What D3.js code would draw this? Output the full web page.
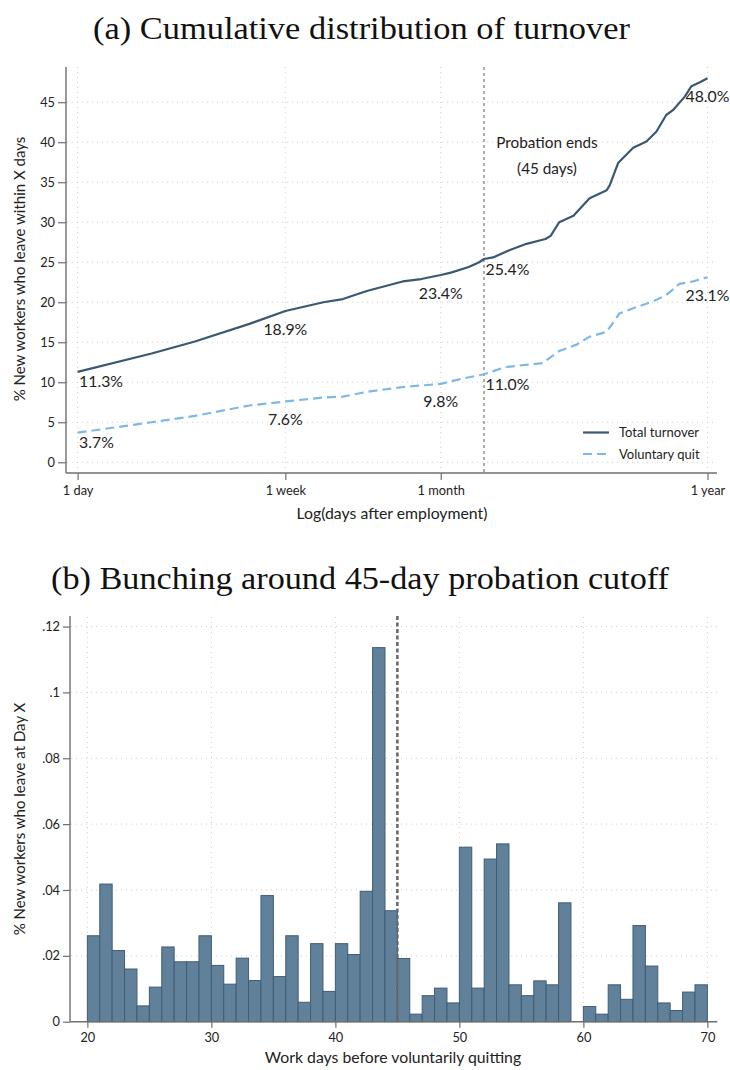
<!DOCTYPE html>
<html>
<head>
<meta charset="utf-8">
<script src="https://cdn.jsdelivr.net/npm/d3@7/dist/d3.min.js"></script>
<style>
  html, body { margin: 0; padding: 0; background: #fff; }
  svg { display: block; }
  .tick text { font-family: Lato, "Open Sans", sans-serif; fill: #222; }
</style>
</head>
<body>
<svg id="chart" width="730" height="1070"></svg>
<script>
// ---- Panel (a): cumulative turnover by days since hiring ----
const totalDays = [1, 2, 3, 5, 7, 10, 12, 15, 21, 25, 30, 33, 39, 43, 45, 49, 57, 67, 80, 84, 91, 104, 121, 142, 146, 158, 182, 206, 226, 248, 264, 295, 314, 340, 365];
const totalPct  = [11.3, 13.6, 15.1, 17.3, 18.9, 20.0, 20.4, 21.4, 22.6, 22.9, 23.4, 23.7, 24.4, 25.0, 25.4, 25.6, 26.5, 27.3, 27.9, 28.3, 30.0, 30.8, 33.0, 34.0, 34.6, 37.4, 39.3, 40.1, 41.3, 43.4, 44.0, 45.7, 47.0, 47.5, 48.0];

const quitDays = [1, 2, 3, 5, 7, 10, 12, 15, 21, 30, 36, 45, 55, 78, 91, 107, 121, 142, 160, 188, 219, 248, 281, 319, 350, 365];
const quitPct  = [3.7, 5.0, 5.8, 7.1, 7.6, 8.1, 8.2, 8.8, 9.4, 9.8, 10.4, 11.0, 11.9, 12.4, 13.9, 14.7, 15.7, 16.3, 18.6, 19.4, 20.1, 20.9, 22.3, 22.6, 23.0, 23.1];

const labelDays = [1, 7, 30, 45, 365];
const xTickDays = [1, 7, 30, 365];
const xTickNames = ["1 day", "1 week", "1 month", "1 year"];
const yTicksA = [0, 5, 10, 15, 20, 25, 30, 35, 40, 45];
const probationDay = 45;
const seriesNames = ["Total turnover", "Voluntary quit"];

// ---- Panel (b): share of quits by work day ----
const binStart = d3.range(20, 70);
const binShare = [
  0.0261, 0.0418, 0.0216, 0.0160, 0.0048, 0.0105, 0.0227, 0.0182, 0.0182, 0.0261,
  0.0171, 0.0114, 0.0193, 0.0125, 0.0383, 0.0137, 0.0261, 0.0059, 0.0237, 0.0092,
  0.0237, 0.0204, 0.0396, 0.1136, 0.0337, 0.0192, 0.0023, 0.0079, 0.0102, 0.0057,
  0.0530, 0.0102, 0.0494, 0.0540, 0.0112, 0.0079, 0.0124, 0.0112, 0.0361, 0.0,
  0.0046, 0.0023, 0.0112, 0.0068, 0.0292, 0.0169, 0.0057, 0.0034, 0.0090, 0.0112
];
const xTicksB = [20, 30, 40, 50, 60, 70];
const yTicksB = [0, 0.02, 0.04, 0.06, 0.08, 0.10, 0.12];

const svg = d3.select("#chart");
const serif = "'Liberation Serif', 'DejaVu Serif', serif";
const sans = "Lato, 'Open Sans', sans-serif";
const axisGrey = "#6f6f6f";
const gridGrey = "#cfcfcf";
const darkLine = "#3b5872";
const lightLine = "#7db9e6";

function styleAxis(g) {
  g.select(".domain").attr("stroke", axisGrey).attr("stroke-width", 1.4);
  g.selectAll(".tick line").attr("stroke", axisGrey).attr("stroke-width", 1.2);
}

function panelTitle(text, cx, y, width) {
  svg.append("text")
    .attr("x", cx).attr("y", y)
    .attr("text-anchor", "middle")
    .attr("font-family", serif).attr("font-size", 32).attr("fill", "#111")
    .attr("textLength", width).attr("lengthAdjust", "spacingAndGlyphs")
    .text(text);
}

// ================= Panel (a) =================
panelTitle("(a) Cumulative distribution of turnover", 361.5, 39, 537);

const xA = d3.scaleLog().domain([0.897, 399]).range([66, 717]);
const yA = d3.scaleLinear().domain([-1.34, 49.4]).range([473, 67]);

const gA = svg.append("g");

// grid
gA.append("g").selectAll("line").data(yTicksA).join("line")
  .attr("x1", 67).attr("x2", 717)
  .attr("y1", d => yA(d)).attr("y2", d => yA(d))
  .attr("stroke", gridGrey).attr("stroke-width", 1).attr("stroke-dasharray", "1,4");
gA.append("g").selectAll("line").data(xTickDays).join("line")
  .attr("x1", d => xA(d)).attr("x2", d => xA(d))
  .attr("y1", 67).attr("y2", 472)
  .attr("stroke", gridGrey).attr("stroke-width", 1).attr("stroke-dasharray", "1,4");

// probation cutoff
gA.append("line")
  .attr("x1", xA(probationDay)).attr("x2", xA(probationDay))
  .attr("y1", 67).attr("y2", 473)
  .attr("stroke", "#9a9a9a").attr("stroke-width", 1.6).attr("stroke-dasharray", "3,3");

// axes
const axA_y = gA.append("g").attr("transform", "translate(66,0)")
  .call(d3.axisLeft(yA).tickValues(yTicksA).tickSize(8).tickPadding(3));
axA_y.select(".domain").attr("d", `M0,67V473`);
axA_y.selectAll(".tick text").attr("font-size", 12.8);
styleAxis(axA_y);

const axA_x = gA.append("g").attr("transform", "translate(0,473)")
  .call(d3.axisBottom(xA).tickValues(xTickDays).tickFormat((d, i) => xTickNames[i]).tickSize(7).tickPadding(6));
axA_x.select(".domain").attr("d", `M66,0H717`);
axA_x.selectAll(".tick text").attr("font-size", 12.8);
styleAxis(axA_x);

// axis titles
gA.append("text")
  .attr("x", 392).attr("y", 518.5)
  .attr("text-anchor", "middle")
  .attr("font-family", sans).attr("font-size", 15.8).attr("fill", "#222")
  .text("Log(days after employment)");
gA.append("text")
  .attr("transform", "translate(25,269) rotate(-90)")
  .attr("text-anchor", "middle")
  .attr("font-family", sans).attr("font-size", 15).attr("fill", "#222")
  .text("% New workers who leave within X days");

// lines
const totalData = totalDays.map((d, i) => ({ day: d, v: totalPct[i] }));
const quitData = quitDays.map((d, i) => ({ day: d, v: quitPct[i] }));
const lineA = d3.line().x(d => xA(d.day)).y(d => yA(d.v));

gA.append("path").datum(quitData)
  .attr("d", lineA).attr("fill", "none")
  .attr("stroke", lightLine).attr("stroke-width", 2.2)
  .attr("stroke-dasharray", "9,5");
gA.append("path").datum(totalData)
  .attr("d", lineA).attr("fill", "none")
  .attr("stroke", darkLine).attr("stroke-width", 2.2)
  .attr("stroke-linejoin", "round");

// value labels at selected horizons
function drawLabels(data) {
  const pts = data.filter(d => labelDays.includes(d.day));
  const beside = d => d.day === 1 || d.day === probationDay;
  gA.append("g").selectAll("text").data(pts).join("text")
    .attr("x", d => beside(d) ? xA(d.day) + 1.5 : xA(d.day))
    .attr("y", d => beside(d) ? yA(d.v) + 15.5 : yA(d.v) + 23.5)
    .attr("text-anchor", d => beside(d) ? "start" : "middle")
    .attr("font-family", sans).attr("font-size", 15.8).attr("fill", "#222")
    .text(d => d.v.toFixed(1) + "%");
}
drawLabels(totalData);
drawLabels(quitData);

// annotation
gA.append("text")
  .attr("x", 547).attr("y", 148)
  .attr("text-anchor", "middle")
  .attr("font-family", sans).attr("font-size", 15.3).attr("fill", "#222")
  .text("Probation ends");
gA.append("text")
  .attr("x", 547).attr("y", 173.5)
  .attr("text-anchor", "middle")
  .attr("font-family", sans).attr("font-size", 15.3).attr("fill", "#222")
  .text("(45 days)");

// legend
const legend = gA.append("g");
seriesNames.forEach((name, i) => {
  const y = 432.5 + i * 21.5;
  legend.append("line")
    .attr("x1", 583).attr("x2", 609).attr("y1", y).attr("y2", y)
    .attr("stroke", i === 0 ? darkLine : lightLine).attr("stroke-width", 2.2)
    .attr("stroke-dasharray", i === 0 ? null : "9,5");
  legend.append("text")
    .attr("x", 619).attr("y", y + 4.5)
    .attr("font-family", sans).attr("font-size", 13).attr("fill", "#222")
    .text(name);
});

// ================= Panel (b) =================
panelTitle("(b) Bunching around 45-day probation cutoff", 360, 589, 618);

const xB = d3.scaleLinear().domain([18.6, 70.8]).range([70, 717.3]);
const yB = d3.scaleLinear().domain([0, 0.1229]).range([1021.7, 617]);
const gB = svg.append("g");

gB.append("g").selectAll("line").data(yTicksB.filter(d => d > 0)).join("line")
  .attr("x1", 71).attr("x2", 717)
  .attr("y1", d => yB(d)).attr("y2", d => yB(d))
  .attr("stroke", gridGrey).attr("stroke-width", 1).attr("stroke-dasharray", "1,4");
gB.append("g").selectAll("line").data(xTicksB).join("line")
  .attr("x1", d => xB(d)).attr("x2", d => xB(d))
  .attr("y1", 617).attr("y2", 1021)
  .attr("stroke", gridGrey).attr("stroke-width", 1).attr("stroke-dasharray", "1,4");

// histogram bars
gB.append("g").selectAll("rect").data(binStart).join("rect")
  .attr("x", (d) => xB(d))
  .attr("width", d => xB(d + 1) - xB(d))
  .attr("y", (d, i) => yB(binShare[i]))
  .attr("height", (d, i) => yB(0) - yB(binShare[i]))
  .attr("fill", "#61809a")
  .attr("stroke", "#3e5d78").attr("stroke-width", 1)
  .attr("visibility", (d, i) => binShare[i] > 0 ? "visible" : "hidden");

// probation cutoff
gB.append("line")
  .attr("x1", xB(probationDay)).attr("x2", xB(probationDay))
  .attr("y1", 616).attr("y2", 1021)
  .attr("stroke", "#6a6a6a").attr("stroke-width", 2.6).attr("stroke-dasharray", "4,2.5");

const fmtB = d => d === 0 ? "0" : d3.format(".2~f")(d).replace(/^0/, "");
const axB_y = gB.append("g").attr("transform", "translate(70,0)")
  .call(d3.axisLeft(yB).tickValues(yTicksB).tickFormat(fmtB).tickSize(7).tickPadding(3));
axB_y.select(".domain").attr("d", `M0,616V1021.7`);
axB_y.selectAll(".tick text").attr("font-size", 12.8);
styleAxis(axB_y);

const axB_x = gB.append("g").attr("transform", "translate(0,1021.7)")
  .call(d3.axisBottom(xB).tickValues(xTicksB).tickSize(6).tickPadding(5));
axB_x.select(".domain").attr("d", `M70,0H717.3`);
axB_x.selectAll(".tick text").attr("font-size", 12.8);
styleAxis(axB_x);

gB.append("text")
  .attr("x", 393).attr("y", 1063)
  .attr("text-anchor", "middle")
  .attr("font-family", sans).attr("font-size", 15.8).attr("fill", "#222")
  .text("Work days before voluntarily quitting");
gB.append("text")
  .attr("transform", "translate(25,819) rotate(-90)")
  .attr("text-anchor", "middle")
  .attr("font-family", sans).attr("font-size", 15).attr("fill", "#222")
  .text("% New workers who leave at Day X");
</script>
</body>
</html>
